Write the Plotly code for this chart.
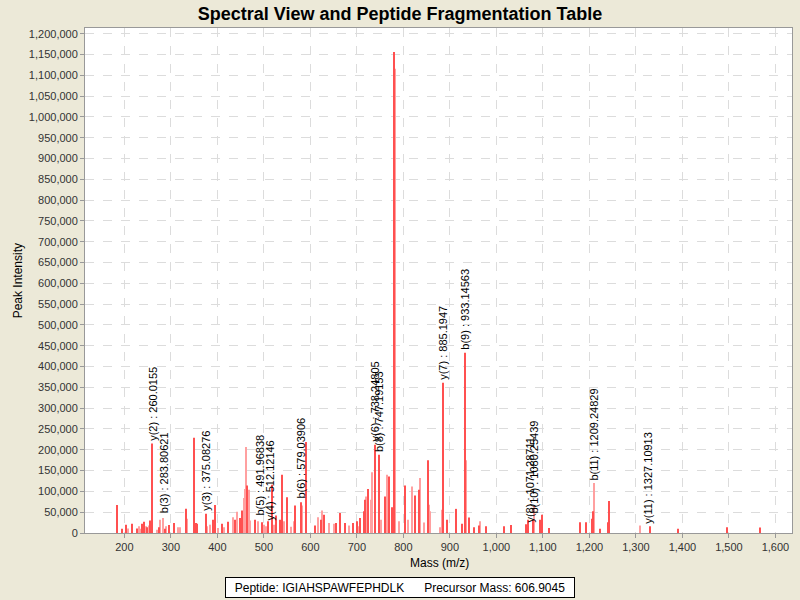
import plotly.graph_objects as go

# peaks drawn in strong red (m/z, intensity)
red_mz = [184.2, 195.6, 204.2, 215.7, 227.9, 238.7, 242.2, 249.4, 255.9, 260.0,
          273.8, 287.4, 296.7, 306.0, 331.8, 349.8, 353.3, 356.0, 375.1, 390.6,
          395.0, 409.3, 422.0, 437.2, 449.4, 453.7, 464.4, 480.2, 496.7, 508.9,
          517.5, 526.8, 534.7, 539.0, 549.7, 567.6, 579.0, 590.6, 610.7, 622.1,
          628.6, 654.4, 663.7, 673.7, 692.4, 699.5, 707.4, 715.3, 718.2, 723.9,
          738.2, 747.2, 759.8, 768.3, 776.2, 780.3, 802.8, 825.7, 832.9, 852.9,
          885.2, 893.9, 914.0, 925.4, 933.1, 941.2, 951.2, 962.7, 978.5, 1015.7,
          1031.5, 1063.0, 1068.8, 1078.8, 1094.6, 1097.4, 1113.2, 1180.6, 1192.0, 1205.7,
          1207.8, 1223.6, 1240.8, 1242.3, 1329.7, 1390.0, 1496.0, 1567.0]
red_int = [67000, 10000, 20000, 22000, 11000, 22000, 27000, 14000, 30000, 215000,
           14000, 10000, 19000, 24000, 58000, 229000, 24000, 22000, 46000, 32000,
           67000, 22000, 27000, 32000, 36000, 54000, 114000, 32000, 26000, 28000,
           116000, 42000, 32000, 140000, 86000, 66000, 74000, 219000, 18000, 32000,
           44000, 24000, 48000, 24000, 24000, 28000, 36000, 52000, 80000, 106000,
           212000, 188000, 88000, 136000, 62000, 1156000, 114000, 90000, 104000, 175000,
           361000, 32000, 58000, 22000, 433000, 37000, 14000, 18000, 16000, 16000,
           19000, 21000, 32000, 32000, 32000, 44000, 12000, 26000, 26000, 34000,
           52000, 10000, 26000, 77000, 16000, 10000, 14000, 13000]

# peaks drawn in light red
pink_mz = [208.5, 231.5, 234.4, 245.8, 253.0, 270.0, 276.0, 283.8, 290.0, 316.0,
           320.0, 334.7, 377.7, 385.0, 401.0, 415.0, 433.6, 442.2, 457.3, 460.2,
           462.3, 467.3, 471.0, 487.0, 500.0, 505.3, 521.8, 543.3, 558.0, 564.8,
           582.0, 616.4, 625.7, 640.0, 650.8, 684.0, 704.0, 720.3, 729.6, 731.8,
           739.7, 752.0, 765.5, 781.3, 790.0, 810.0, 818.5, 835.7, 845.0, 855.8,
           858.0, 878.0, 882.4, 886.0, 934.5, 965.5, 1081.7, 1210.5, 1309.7]
pink_int = [11000, 16000, 10000, 16000, 18000, 8000, 32000, 36000, 16000, 14000,
            14000, 34000, 16000, 20000, 12000, 14000, 38000, 51000, 84000, 106000,
            207000, 104000, 30000, 28000, 20000, 16000, 20000, 28000, 15000, 28000,
            66000, 38000, 54000, 24000, 22000, 18000, 16000, 88000, 80000, 146000,
            196000, 32000, 140000, 1116000, 28000, 32000, 112000, 132000, 25000, 68000,
            52000, 14000, 56000, 175000, 175000, 28000, 64000, 120000, 18000]

# annotated fragment ions: label text, m/z, label base height
ion_text = ["y(2) : 260.0155", "b(3) : 283.80621", "y(3) : 375.08276", "b(5) : 491.96838",
            "y(4) : 512.12146", "b(6) : 579.03906", "y(6) : 738.24805", "b(8) : 747.19153",
            "y(7) : 885.1947", "b(9) : 933.14563", "y(8) : 1071.28711", "b(10) : 1080.25439",
            "b(11) : 1209.24829", "y(11) : 1327.10913"]
ion_mz = [260.0155, 283.80621, 375.08276, 491.96838, 512.12146, 579.03906, 738.24805,
          747.19153, 885.1947, 933.14563, 1071.28711, 1080.25439, 1209.24829, 1327.10913]
ion_int = [215000, 40000, 46000, 34000, 22000, 76000, 212000, 188000,
           361000, 433000, 18000, 40000, 118000, 14000]

fig = go.Figure()
fig.add_trace(go.Bar(x=pink_mz, y=pink_int, width=2.6,
                     marker=dict(color="#ffa0a0", line=dict(width=0))))
fig.add_trace(go.Bar(x=red_mz, y=red_int, width=2.6,
                     marker=dict(color="#ff5050", line=dict(width=0))))

for t, mz, h in zip(ion_text, ion_mz, ion_int):
    fig.add_annotation(x=mz, y=h, text=t, textangle=-90, showarrow=False,
                       xanchor="center", yanchor="bottom", yshift=1,
                       font=dict(size=11, color="black"))

# axis titles and peptide box
fig.add_annotation(xref="paper", yref="paper", x=0.502, y=-0.059, text="Mass (m/z)",
                   showarrow=False, font=dict(size=12, color="black"),
                   xanchor="center", yanchor="middle")
fig.add_annotation(xref="paper", yref="paper", x=-0.095, y=0.5, text="Peak Intensity",
                   textangle=-90, showarrow=False, font=dict(size=12, color="black"),
                   xanchor="center", yanchor="middle")
fig.add_annotation(xref="paper", yref="paper", x=0.4455, y=-0.108,
                   text="Peptide: IGIAHSPAWFEPHDLK\u00a0\u00a0\u00a0\u00a0\u00a0\u00a0Precursor Mass: 606.9045",
                   showarrow=False, font=dict(size=12, color="black"),
                   bgcolor="white", bordercolor="black", borderwidth=1,
                   width=346, height=17, borderpad=1,
                   xanchor="center", yanchor="middle")

fig.update_layout(
    width=800, height=600,
    paper_bgcolor="#ece9d8", plot_bgcolor="white",
    margin=dict(l=85, r=8, t=28, b=67),
    font=dict(family="Liberation Sans, Arial, sans-serif", size=11, color="#333"),
    title=dict(text="<b>Spectral View and Peptide Fragmentation Table</b>",
               x=0.5, xanchor="center", y=0.978, yanchor="middle",
               font=dict(size=18, color="black")),
    barmode="overlay", showlegend=False,
    xaxis=dict(range=[115.3, 1635.7], tickmode="linear", tick0=200, dtick=100,
               tickformat=",d", showgrid=True, gridcolor="#dcdcdc", griddash="dash",
               showline=True, linecolor="#999", mirror=True, zeroline=False,
               ticks="outside", ticklen=4, tickcolor="#999"),
    yaxis=dict(range=[0, 1213800], tickmode="linear", tick0=0, dtick=50000,
               tickformat=",d", showgrid=True, gridcolor="#dcdcdc", griddash="dash",
               showline=True, linecolor="#999", mirror=True, zeroline=False,
               ticks="outside", ticklen=4, tickcolor="#999"),
)

# page has a default 8px body margin; drop it so the chart fills the window
fig.write_html("out.html", config={"displayModeBar": False},
               post_script="document.body.style.margin='0';")
